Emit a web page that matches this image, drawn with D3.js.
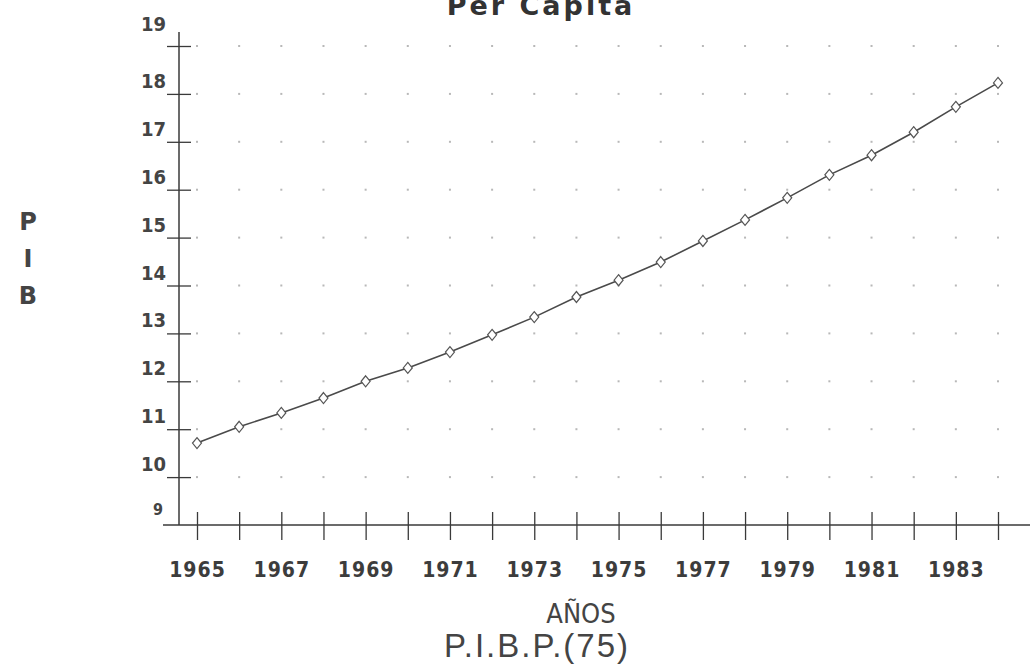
<!DOCTYPE html>
<html><head><meta charset="utf-8">
<script src="https://cdn.jsdelivr.net/npm/d3@7"></script>
<style>body{margin:0;background:#fff}svg{display:block}</style>
</head><body>
<svg id="c" width="1035" height="664"></svg>
<script>
const years = [1965,1966,1967,1968,1969,1970,1971,1972,1973,1974,1975,1976,1977,1978,1979,1980,1981,1982,1983,1984];
const pib = [10.71,11.05,11.34,11.65,12.0,12.28,12.61,12.97,13.34,13.76,14.11,14.49,14.93,15.37,15.83,16.31,16.72,17.2,17.73,18.23];
const yTicks = [9,10,11,12,13,14,15,16,17,18,19];
const xLabelYears = [1965,1967,1969,1971,1973,1975,1977,1979,1981,1983];
const title = "Per Capita";
const xTitle = "AÑOS";
const subTitle = "P.I.B.P.(75)";
const yTitle = ["P","I","B"];

const svg = d3.select("#c");
const x = d3.scaleLinear().domain([1965,1984]).range([197,998]);
const y = d3.scaleLinear().domain([9,19]).range([525,46]);
const ink = "#3a3a3a";

// dotted grid
const grid = svg.append("g");
yTicks.filter(v=>v>9).forEach(v=>{
  grid.selectAll(null).data(years).enter().append("rect")
    .attr("x",d=>x(d)-1).attr("y",y(v)-1).attr("width",2).attr("height",2)
    .attr("fill","#b8b8b8");
});

// y axis
const ya = svg.append("g").attr("transform",`translate(179,0)`)
  .call(d3.axisLeft(y).tickValues(yTicks.filter(v=>v>9)).tickSize(13).tickFormat(""));
ya.select(".domain").remove();
ya.selectAll(".tick line").attr("x1",12).attr("x2",-12).attr("stroke",ink).attr("stroke-width",1.3);
svg.append("line").attr("x1",179).attr("x2",179).attr("y1",32).attr("y2",y(9)).attr("stroke",ink).attr("stroke-width",1.5);
svg.append("g").selectAll("text").data(yTicks).enter().append("text")
  .attr("x",d=>d===9?163:166)
  .attr("y",d=>d===19?y(d)-15:(d===9?y(d)-10:y(d)-6))
  .attr("text-anchor","end")
  .attr("font-family","DejaVu Sans Condensed, DejaVu Sans").attr("font-weight","bold")
  .attr("font-size",d=>d===9?16:20).attr("fill","#444")
  .text(d=>d);

// x axis
const xa = svg.append("g").attr("transform",`translate(0,${y(9)})`)
  .call(d3.axisBottom(x).tickValues(years).tickSize(14).tickFormat(d=>xLabelYears.includes(d)?d:""));
xa.select(".domain").remove();
xa.selectAll(".tick line").attr("y1",-13).attr("y2",15).attr("stroke",ink).attr("stroke-width",1.3);
xa.selectAll(".tick text").attr("y",52).attr("dy",0)
  .attr("font-family","DejaVu Sans Condensed, DejaVu Sans").attr("font-weight","bold")
  .attr("font-size",21).attr("fill","#3c3c3c").attr("letter-spacing",1);
svg.append("line").attr("x1",163).attr("x2",1030).attr("y1",y(9)).attr("y2",y(9)).attr("stroke",ink).attr("stroke-width",1.5);

// line
const line = d3.line().x((d,i)=>x(years[i])).y(d=>y(d));
svg.append("path").datum(pib).attr("d",line).attr("fill","none").attr("stroke","#4a4a4a").attr("stroke-width",1.6);
svg.append("g").selectAll("path").data(pib).enter().append("path")
  .attr("d",(d,i)=>{const cx=x(years[i]),cy=y(d);return `M${cx},${cy-5.5}L${cx+4.5},${cy}L${cx},${cy+5.5}L${cx-4.5},${cy}Z`;})
  .attr("fill","#fff").attr("stroke","#555").attr("stroke-width",1.2);

// titles
svg.append("text").attr("x",541).attr("y",15).attr("text-anchor","middle")
  .attr("font-family","DejaVu Sans").attr("font-weight","bold").attr("font-size",27)
  .attr("letter-spacing",3).attr("fill","#333").text(title);
svg.append("text").attr("x",581).attr("y",623).attr("text-anchor","middle")
  .attr("font-family","DejaVu Sans Condensed, DejaVu Sans").attr("font-size",27)
  .attr("fill","#444").text(xTitle);
svg.append("text").attr("x",537).attr("y",657).attr("text-anchor","middle")
  .attr("font-family","Liberation Sans").attr("font-size",33).attr("letter-spacing",2)
  .attr("fill","#444").text(subTitle);
svg.append("g").selectAll("text").data(yTitle).enter().append("text")
  .attr("x",28).attr("y",(d,i)=>230+i*37).attr("text-anchor","middle")
  .attr("font-family","DejaVu Sans").attr("font-weight","bold").attr("font-size",24).attr("fill","#444").text(d=>d);
</script>
</body></html>
